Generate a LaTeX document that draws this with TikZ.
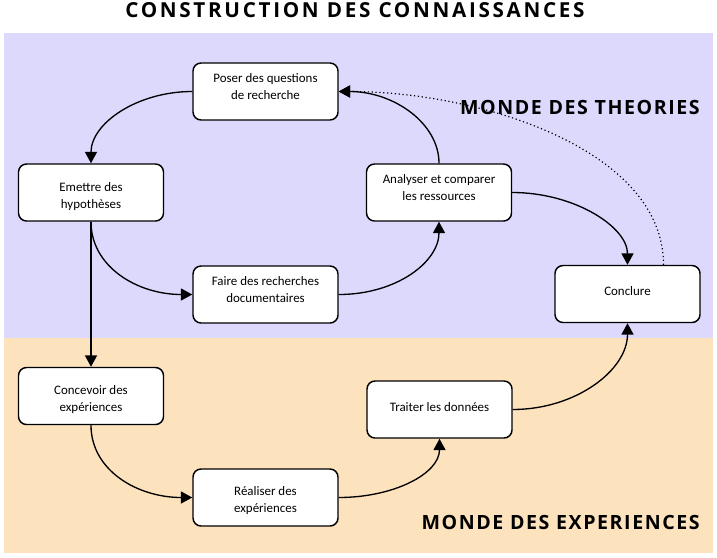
\documentclass[tikz,border=0pt]{standalone}
\usepackage{fontspec}
\setmainfont{Carlito}
\newfontfamily\headfont{Open Sans}
\usetikzlibrary{arrows.meta}
\definecolor{theo}{HTML}{DCD9FC}
\definecolor{expe}{HTML}{FDE2BE}
\tikzset{
  box/.style={draw=black, line width=1.1pt, rounded corners=6pt, fill=white,
    minimum width=108.75pt, minimum height=42.75pt, inner sep=0pt},
  boxtxt/.style={align=center, inner sep=0pt, font=\fontsize{9.7}{12.75}\selectfont},
  conn/.style={line width=1pt, -{Triangle[length=8.5pt,width=9pt]}},
  dotconn/.style={line width=0.9pt, dotted, -{Triangle[length=8.5pt,width=9pt]}},
  zone/.style={font=\headfont\fontsize{14.7}{18}\selectfont\bfseries\addfontfeature{LetterSpace=8}, anchor=east, inner sep=0pt},
}
\begin{document}
\begin{tikzpicture}[x=0.75pt,y=-0.75pt]
\useasboundingbox (0,0) rectangle (717,557);
\fill[theo] (3.5,33) rectangle (712.5,338);
\fill[expe] (3.5,338) rectangle (712.5,553);
\node[font=\headfont\fontsize{15.5}{20}\selectfont\bfseries\addfontfeature{LetterSpace=13}, inner sep=0pt] (title) at (355,10.5) {CONSTRUCTION DES CONNAISSANCES};
\node[zone] (theories) at (700,107.5) {MONDE DES THEORIES};
\node[zone] (experiences) at (700,522) {MONDE DES EXPERIENCES};

\node[box] (poser) at (265.5,91.5) {};
\node[box] (emettre) at (91,192.5) {};
\node[box] (analyser) at (439,192.5) {};
\node[box] (faire) at (265.5,294.5) {};
\node[box] (conclure) at (627.5,294) {};
\node[box] (concevoir) at (91,396) {};
\node[box] (traiter) at (439.5,409.5) {};
\node[box] (realiser) at (265.5,497.5) {};

\node[boxtxt] (poser-t) at ([yshift=3.5pt]poser.center) {Poser des questions\\de recherche};
\node[boxtxt] (emettre-t) at ([yshift=-3pt]emettre.center) {Emettre des\\hypothèses};
\node[boxtxt] (analyser-t) at ([yshift=3.5pt]analyser.center) {Analyser et comparer\\les ressources};
\node[boxtxt] (faire-t) at ([yshift=4pt]faire.center) {Faire des recherches\\documentaires};
\node[boxtxt] (conclure-t) at ([yshift=2pt]conclure.center) {Conclure};
\node[boxtxt] (concevoir-t) at ([yshift=-2.5pt]concevoir.center) {Concevoir des\\expériences};
\node[boxtxt] (traiter-t) at ([yshift=2pt]traiter.center) {Traiter les données};
\node[boxtxt] (realiser-t) at ([yshift=-2.5pt]realiser.center) {Réaliser des\\expériences};

\draw[conn] (poser.west) .. controls +(-55,0) and +(0,-40) .. (emettre.north);
\draw[conn] (emettre.south) -- (concevoir.north);
\draw[conn] (emettre.south) .. controls +(0,45) and +(-55,0) .. (faire.west);
\draw[conn] (faire.east) .. controls +(58,0) and +(0,40) .. (analyser.south);
\draw[conn] (analyser.north) .. controls +(0,-40) and +(55,0) .. (poser.east);
\draw[conn] (analyser.east) .. controls +(62,0) and +(0,-38) .. (conclure.north);
\coordinate (dotstart) at ([xshift=27pt]conclure.north);
\draw[dotconn] (dotstart) .. controls +(0,-115) and +(142,0) .. (poser.east);
\draw[conn] (concevoir.south) .. controls +(0,45) and +(-55,0) .. (realiser.west);
\draw[conn] (realiser.east) .. controls +(55,0) and +(0,35) .. (traiter.south);
\draw[conn] (traiter.east) .. controls +(63,0) and +(0,47) .. (conclure.south);
\end{tikzpicture}
\end{document}
